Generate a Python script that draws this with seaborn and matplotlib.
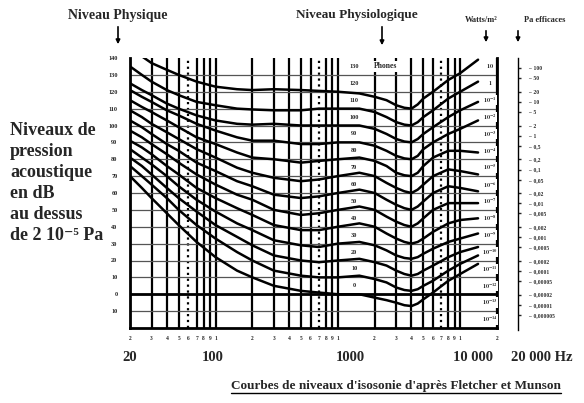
import numpy as np
import pandas as pd
import matplotlib.pyplot as plt
import seaborn as sns
from matplotlib.lines import Line2D

freqs = [20, 25, 30, 40, 50, 70, 100, 150, 200, 300, 500, 700, 1000, 1500, 2000,
         2500, 3000, 3500, 4000, 4500, 5000, 6000, 8000, 10000, 14000]

# sound pressure level (dB) of each equal loudness curve
phon_0 = [70, 63, 57, 48, 41, 31, 22, 14, 10, 5, 2, 1, 0, 0, -2, -3.5, -5, -6.5, -7, -5.5, -3, 1, 8, 12, 18]
phon_10 = [76, 70, 65, 57, 50, 41, 33, 25, 20, 14, 11, 10, 10, 11, 9, 7, 4, 2.5, 2, 3, 5, 8, 14, 18, 23]
phon_20 = [81, 76, 71, 63, 57, 49, 41, 34, 29, 23, 20, 19, 20, 21, 19, 17, 14, 12, 11, 12, 14, 17, 22, 25, 28]
phon_30 = [86, 81, 77, 70, 64, 56, 49, 42, 38, 32, 29, 28, 30, 31, 29, 26, 23, 21.5, 21, 22, 24, 27, 31, 33, 36]
phon_40 = [91, 87, 83, 76, 71, 63, 57, 51, 47, 41, 38, 38, 40, 42, 40, 36, 33, 31, 30, 31, 33, 37, 42, 44, 45]
phon_50 = [97, 93, 89, 83, 78, 71, 65, 59, 56, 50, 47, 48, 50, 52, 50, 46, 43, 41, 40, 42, 45, 50, 54, 54, 54]
phon_60 = [103, 99, 95, 89, 85, 78, 73, 67, 64, 59, 57, 58, 60, 62, 60, 56, 53, 51, 50, 52, 55, 60, 64, 63, 61]
phon_70 = [109, 105, 101, 96, 92, 86, 81, 75, 72, 69, 67, 68, 70, 72, 70, 66, 63, 61, 60, 62, 65, 70, 74, 73, 71]
phon_80 = [115, 111, 108, 103, 99, 93, 89, 84, 81, 80, 78, 79, 80, 81, 79, 76, 72, 70.5, 70, 72, 76, 81, 85, 85, 84]
phon_90 = [121, 117, 114, 109, 106, 101, 97, 93, 91, 91, 89, 89, 90, 90, 88, 85, 82, 80.5, 80, 82, 86, 90, 95, 98, 103]
phon_100 = [125, 121, 118, 113, 110, 106, 103, 101, 100.5, 101, 100, 100, 100, 100, 98, 95, 92, 90.5, 90, 92, 95, 99, 105, 109, 114]
phon_110 = [135, 130, 126, 121, 118, 114, 112, 110, 109.5, 109, 109, 110, 110, 110, 108, 105, 102, 100.5, 100, 102, 105, 109, 116, 120, 126]
phon_120 = [146, 141, 137, 133, 130, 126, 123, 121.5, 121, 121.5, 121, 120.5, 120, 119, 117, 115, 112, 110.5, 110, 112.5, 116, 120, 127, 131, 139]

phon_levels = [0, 10, 20, 30, 40, 50, 60, 70, 80, 90, 100, 110, 120]
curves = [phon_0, phon_10, phon_20, phon_30, phon_40, phon_50, phon_60,
          phon_70, phon_80, phon_90, phon_100, phon_110, phon_120]

# grid and axis texts
grid_freqs = [20, 30, 40, 50, 60, 70, 80, 90, 100, 200, 300, 400, 500, 600, 700, 800, 900,
              1000, 2000, 3000, 4000, 5000, 6000, 7000, 8000, 9000, 10000, 20000]
dotted_freqs = [60, 700, 7000]
minor_labels = ['2', '3', '4', '5', '6', '7', '8', '9', '1', '2', '3', '4', '5', '6', '7', '8', '9',
                '1', '2', '3', '4', '5', '6', '7', '8', '9', '1', '2']
big_freqs = [20, 100, 1000, 10000, 20000]
big_labels = ['20', '100', '1000', '10 000', '20 000 Hz']
big_offsets = [0, -2, 9, 9, 32]
db_ticks = [-10, 0, 10, 20, 30, 40, 50, 60, 70, 80, 90, 100, 110, 120, 130, 140]
db_labels = ['10', '0', '10', '20', '30', '40', '50', '60', '70', '80', '90', '100',
             '110', '120', '130', '140']
phon_label_levels = [0, 10, 20, 30, 40, 50, 60, 70, 80, 90, 100, 110, 120, 130]
watt_levels = [130, 120, 110, 100, 90, 80, 70, 60, 50, 40, 30, 20, 10, 0, -10, -20]
watt_labels = ['10', '1', '10^{-1}', '10^{-2}', '10^{-3}', '10^{-4}', '10^{-5}', '10^{-6}',
               '10^{-7}', '10^{-8}', '10^{-9}', '10^{-10}', '10^{-11}', '10^{-12}',
               '10^{-13}', '10^{-14}']
pa_values = [100, 50, 20, 10, 5, 2, 1, 0.5, 0.2, 0.1, 0.05, 0.02, 0.01, 0.005, 0.002,
             0.001, 0.0005, 0.0002, 0.0001, 0.00005, 0.00002, 0.00001, 0.000005]
pa_labels = ['100', '50', '20', '10', '5', '2', '1', '0,5', '0,2', '0,1', '0,05', '0,02',
             '0,01', '0,005', '0,002', '0,001', '0,0005', '0,0002', '0,0001', '0,00005',
             '0,00002', '0,00001', '0,000005']

sns.set_theme(style='white')
plt.rcParams['font.family'] = ['Liberation Serif', 'DejaVu Serif']
plt.rcParams['font.weight'] = 'bold'
plt.rcParams['mathtext.fontset'] = 'stix'
plt.rcParams['mathtext.default'] = 'bf'

W, H = 584, 403
fig = plt.figure(figsize=(W / 100, H / 100), dpi=100)
ax = fig.add_axes([130 / W, 75 / H, 367 / W, 270 / H])

# grid
for f in grid_freqs:
    ax.axvline(f, color='black', lw=1.6, ls=':' if f in dotted_freqs else '-', zorder=1)
for v in db_ticks[:-1]:
    ax.axhline(v, color='#555555', lw=0.9, zorder=1)
ax.axhline(0, color='black', lw=2, zorder=1)

# curves
rows = []
for level, vals in zip(phon_levels, curves):
    for f, v in zip(freqs, vals):
        rows.append({'freq': f, 'db': v, 'phon': level})
df = pd.DataFrame(rows)
sns.lineplot(data=df, x='freq', y='db', units='phon', estimator=None, color='black',
             lw=1.8, ax=ax, zorder=3, legend=False)

ax.set_xscale('log')
ax.set_xlim(20, 20000)
ax.set_ylim(-20, 140)
ax.set_xlabel('')
ax.set_ylabel('')

ax.set_xticks(grid_freqs)
ax.set_xticklabels(minor_labels)
ax.xaxis.set_minor_locator(plt.NullLocator())
ax.tick_params(axis='x', length=0, pad=6, labelsize=4)
ax.set_yticks(db_ticks)
ax.set_yticklabels(db_labels)
ax.tick_params(axis='y', length=0, pad=9, labelsize=4.5)

for s in ['left', 'right', 'bottom']:
    ax.spines[s].set_color('black')
    ax.spines[s].set_linewidth(2)
ax.spines['top'].set_visible(False)

# big frequency labels
for f, lab, off in zip(big_freqs, big_labels, big_offsets):
    ax.annotate(lab, xy=(f, 0), xycoords=('data', 'axes fraction'), xytext=(off, -21),
                textcoords='offset points', ha='center', va='center', fontsize=10.5,
                fontweight='bold')

# phon labels
for lev in phon_label_levels:
    ax.text(1360, lev + 5, str(lev), ha='center', va='center', fontsize=4.5, zorder=4)
ax.text(2450, 135, 'Phones', ha='center', va='center', fontsize=5.5, zorder=4,
        bbox=dict(facecolor='white', edgecolor='none', pad=1))

# intensity labels
for lev, lab in zip(watt_levels, watt_labels):
    ax.text(17500, lev + 5, '$' + lab + '$', ha='center', va='center', fontsize=4.5,
            zorder=4, bbox=dict(facecolor='white', edgecolor='none', pad=0.3))

# pressure axis
ax_pa = fig.add_axes([518 / W, 73 / H, 0.0001, 272 / H])
ax_pa.set_ylim(-21, 140)
ax_pa.set_xticks([])
for s in ['left', 'top', 'bottom']:
    ax_pa.spines[s].set_visible(False)
ax_pa.spines['right'].set_color('black')
ax_pa.spines['right'].set_linewidth(1)
ax_pa.yaxis.tick_right()
ax_pa.set_yticks([20 * np.log10(p / 2e-5) for p in pa_values])
ax_pa.set_yticklabels(['–  ' + p for p in pa_labels])
ax_pa.tick_params(axis='y', length=2.5, width=1, direction='out', pad=5, labelsize=4)

# top annotations
fig.text(118 / W, 1 - 15 / H, 'Niveau Physique', ha='center', va='center', fontsize=10)
fig.text(357 / W, 1 - 15 / H, 'Niveau Physiologique', ha='center', va='center', fontsize=9.5)
fig.text(481 / W, 1 - 20 / H, 'Watts/m²', ha='center', va='center', fontsize=6)
fig.text(545 / W, 1 - 20 / H, 'Pa efficaces', ha='center', va='center', fontsize=6)
for x, y0, y1 in [(118, 24, 47), (382, 24, 48), (486, 28, 45), (518, 28, 45)]:
    fig.add_artist(plt.Annotation('', xy=(x / W, 1 - y1 / H), xycoords='figure fraction',
                                  xytext=(x / W, 1 - y0 / H), textcoords='figure fraction',
                                  arrowprops=dict(arrowstyle='-|>', color='black', lw=1.2,
                                                  mutation_scale=6)))

fig.text(10 / W, 1 - 122 / H,
         'Niveaux de\npression\nacoustique\nen dB\nau dessus\nde 2 10⁻⁵ Pa',
         ha='left', va='top', fontsize=13, linespacing=1.3)

cap = fig.text(396 / W, 1 - 386 / H,
               "Courbes de niveaux d'isosonie d'après Fletcher et Munson",
               ha='center', va='center', fontsize=9.5)
fig.canvas.draw()
bb = cap.get_window_extent()
fig.add_artist(Line2D([bb.x0 / W, bb.x1 / W], [(bb.y0 - 1) / H, (bb.y0 - 1) / H],
                      transform=fig.transFigure, color='black', lw=1))

fig.savefig('out.png', dpi=100)
